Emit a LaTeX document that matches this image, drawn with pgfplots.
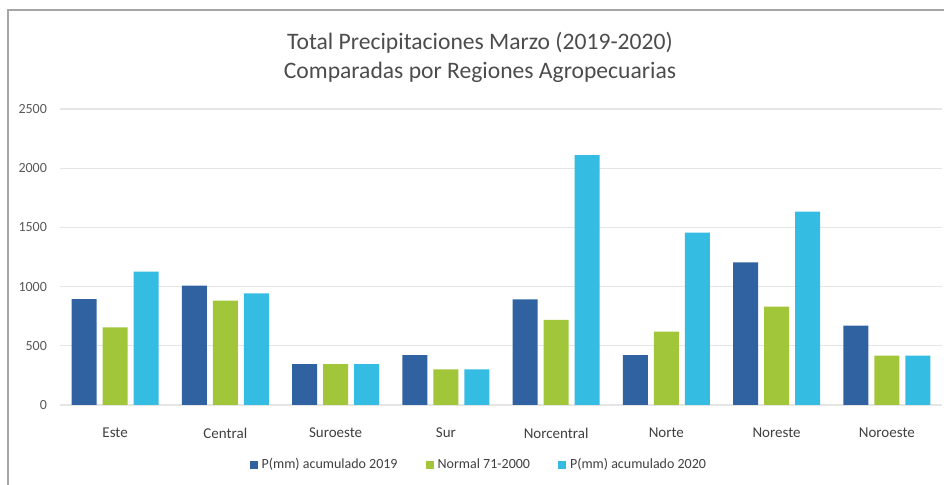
\documentclass[border=0pt]{standalone}
\usepackage{pgfplots}
\pgfplotsset{compat=1.18}
\usepackage{fontspec}
\setmainfont{Carlito}
\definecolor{cdark}{HTML}{3062A2}
\definecolor{cgreen}{HTML}{A2C63A}
\definecolor{ccyan}{HTML}{34BCE2}
\definecolor{tgray}{HTML}{595959}
\begin{document}
\begin{tikzpicture}[x=1pt,y=1pt]
\useasboundingbox (0,0) rectangle (472,242.5);
\draw[gray!70, line width=1.2pt] (4,0) -- (4,237.5) -- (472,237.5);
\node[text=black!70, font=\fontsize{11.8}{13.5}\selectfont, align=center] at (240,214) {Total Precipitaciones Marzo (2019-2020)\\[1pt] Comparadas por Regiones Agropecuarias};
\begin{axis}[
  at={(30pt,40pt)}, anchor=south west,
  scale only axis, width=441pt, height=148pt,
  ybar=3pt, bar width=12.5pt,
  xmin=-0.5, xmax=7.5, ymin=0, ymax=2500,
  ytick={0,500,...,2500},
  xtick={0,...,7},
  xticklabels={Este,Central,Suroeste,Sur,Norcentral,Norte,Noreste,Noroeste},
  axis line style={draw=none},
  tick style={draw=none},
  ymajorgrids, grid style={gray!20, line width=0.6pt},
  yticklabel style={font=\fontsize{7}{8}\selectfont, text=tgray, xshift=-3pt},
  xticklabel style={font=\fontsize{7.5}{9}\selectfont, text=black!75, yshift=-3.5pt},
  /pgf/number format/assume math mode=true,
  /pgf/number format/1000 sep={},
  legend style={at={(0.476,-0.203)}, anchor=center, draw=none, legend columns=3,
     font=\fontsize{7}{8}\selectfont, text=black!75,
     /tikz/every even column/.append style={column sep=12pt}},
  legend image code/.code={\fill[#1] (0pt,-2pt) rectangle (4pt,2pt);},
]
\addplot[draw=none, fill=cdark] coordinates {(0,895) (1,1008) (2,346) (3,422) (4,892) (5,422) (6,1205) (7,670)};
\addplot[draw=none, fill=cgreen] coordinates {(0,656) (1,881) (2,346) (3,301) (4,718) (5,619) (6,831) (7,417)};
\addplot[draw=none, fill=ccyan] coordinates {(0,1126) (1,943) (2,346) (3,301) (4,2111) (5,1456) (6,1633) (7,417)};
\legend{P(mm) acumulado 2019, Normal 71-2000, P(mm) acumulado 2020}
\end{axis}
\end{tikzpicture}
\end{document}
